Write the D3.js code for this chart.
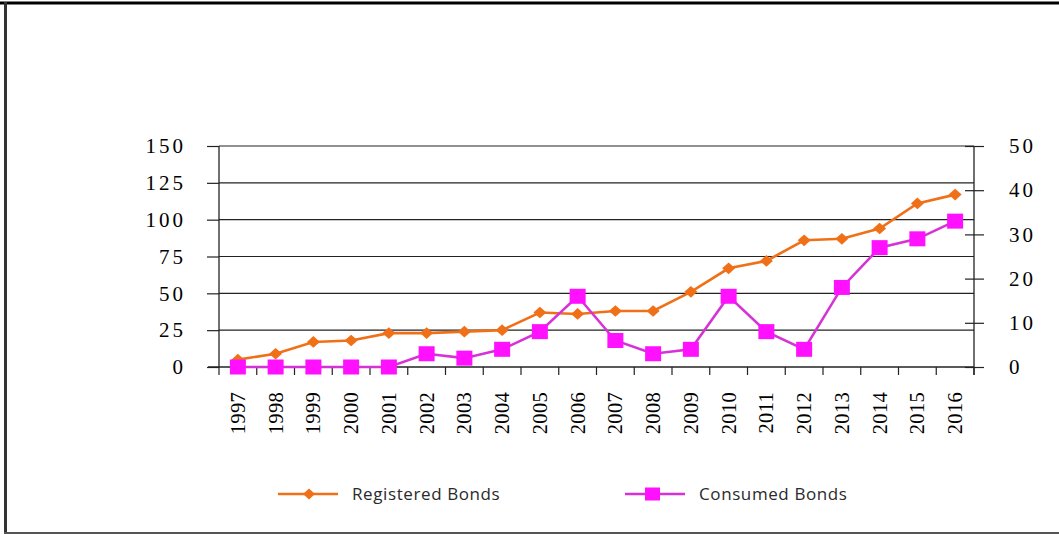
<!DOCTYPE html>
<html>
<head>
<meta charset="utf-8">
<script src="https://cdn.jsdelivr.net/npm/d3@7"></script>
<style>
  html, body { margin: 0; padding: 0; background: #fff; }
  svg { display: block; }
</style>
</head>
<body>
<svg id="chart" width="1059" height="534"></svg>
<script>
// Yearly counts of bonds
const years = ["1997","1998","1999","2000","2001","2002","2003","2004","2005","2006",
               "2007","2008","2009","2010","2011","2012","2013","2014","2015","2016"];
const registeredBonds = [5, 9, 17, 18, 23, 23, 24, 25, 37, 36, 38, 38, 51, 67, 72, 86, 87, 94, 111, 117];
const consumedBonds   = [0, 0, 0, 0, 0, 3, 2, 4, 8, 16, 6, 3, 4, 16, 8, 4, 18, 27, 29, 33];
const leftTicks  = [0, 25, 50, 75, 100, 125, 150];
const rightTicks = [0, 10, 20, 30, 40, 50];

const svg = d3.select("#chart");
const W = 1059, H = 534;
const plot = { left: 219, right: 974, top: 146, bottom: 367 };

const orange = "#F07018";
const magenta = "#FF10FF";
const magentaLine = "#D633D6";
const serif = "'Liberation Serif', 'Times New Roman', serif";

// frame
svg.append("line").attr("x1", 0).attr("x2", W).attr("y1", 3).attr("y2", 3)
  .attr("stroke", "#000").attr("stroke-width", 3);
svg.append("line").attr("x1", 5.5).attr("x2", 5.5).attr("y1", 2).attr("y2", H)
  .attr("stroke", "#333").attr("stroke-width", 3);
svg.append("line").attr("x1", 4).attr("x2", W).attr("y1", 533).attr("y2", 533)
  .attr("stroke", "#555").attr("stroke-width", 2);

const x = d3.scaleBand().domain(years).range([plot.left, plot.right]).padding(0);
const yL = d3.scaleLinear().domain([0, 150]).range([plot.bottom, plot.top]);
const yR = d3.scaleLinear().domain([0, 50]).range([plot.bottom, plot.top]);
const cx = d => x(d) + x.bandwidth() / 2;

// horizontal gridlines
svg.append("g").selectAll("line").data(leftTicks.filter(t => t > 0)).join("line")
  .attr("x1", plot.left).attr("x2", plot.right)
  .attr("y1", d => yL(d)).attr("y2", d => yL(d))
  .attr("stroke", "#222").attr("stroke-width", 1.2);

// left axis
const gL = svg.append("g").attr("transform", `translate(${plot.left},0)`)
  .call(d3.axisLeft(yL).tickValues(leftTicks).tickSize(12).tickPadding(21));
gL.select(".domain").attr("stroke", "#222").attr("stroke-width", 1.3).attr("d", `M0,${plot.top}V${plot.bottom}`);
gL.selectAll(".tick line").attr("stroke", "#222").attr("stroke-width", 1.2);
gL.selectAll(".tick text").attr("font-family", serif).attr("font-size", 21)
  .attr("letter-spacing", 3).attr("fill", "#000");

// right axis (crossing ticks)
const gR = svg.append("g").attr("transform", `translate(${plot.right},0)`)
  .call(d3.axisRight(yR).tickValues(rightTicks).tickSize(10).tickPadding(25));
gR.select(".domain").attr("stroke", "#222").attr("stroke-width", 1.3).attr("d", `M0,${plot.top}V${plot.bottom + 8}`);
gR.selectAll(".tick line").attr("x1", -9).attr("stroke", "#222").attr("stroke-width", 1.2);
gR.selectAll(".tick text").attr("font-family", serif).attr("font-size", 21)
  .attr("letter-spacing", 3).attr("fill", "#000");

// bottom axis: ticks at category boundaries
const gB = svg.append("g");
gB.append("line").attr("x1", plot.left - 11).attr("x2", plot.right)
  .attr("y1", plot.bottom).attr("y2", plot.bottom)
  .attr("stroke", "#222").attr("stroke-width", 1.4);
gB.selectAll("line.tk").data(years.concat(["end"])).join("line").attr("class", "tk")
  .attr("x1", (d, i) => plot.left + i * x.bandwidth())
  .attr("x2", (d, i) => plot.left + i * x.bandwidth())
  .attr("y1", plot.bottom).attr("y2", plot.bottom + 8)
  .attr("stroke", "#222").attr("stroke-width", 1.2);
gB.selectAll("text").data(years).join("text")
  .attr("transform", d => `translate(${cx(d) + 7},${plot.bottom + 25}) rotate(-90)`)
  .attr("text-anchor", "end")
  .attr("font-family", serif).attr("font-size", 20.5).attr("letter-spacing", 0.3)
  .attr("fill", "#000")
  .text(d => d);

// series lines
const lineL = d3.line().x((d, i) => cx(years[i])).y(d => yL(d));
const lineR = d3.line().x((d, i) => cx(years[i])).y(d => yR(d));

svg.append("path").datum(registeredBonds).attr("d", lineL)
  .attr("fill", "none").attr("stroke", orange).attr("stroke-width", 2.6);
svg.append("path").datum(consumedBonds).attr("d", lineR)
  .attr("fill", "none").attr("stroke", magentaLine).attr("stroke-width", 2.6);

const diamond = s => `M0,${-s * 0.9}L${s},0L0,${s * 0.9}L${-s},0Z`;

svg.append("g").selectAll("path").data(registeredBonds).join("path")
  .attr("transform", (d, i) => `translate(${cx(years[i])},${yL(d)})`)
  .attr("d", diamond(6.5)).attr("fill", orange);

svg.append("g").selectAll("rect").data(consumedBonds).join("rect")
  .attr("x", (d, i) => cx(years[i]) - 8).attr("y", d => yR(d) - 7.5)
  .attr("width", 16).attr("height", 15).attr("fill", magenta);

// legend
const legend = svg.append("g").attr("font-family", "'Open Sans', 'Noto Sans', sans-serif")
  .attr("font-size", 17).attr("letter-spacing", 0.6).attr("fill", "#2a2a2a");
const lg1 = legend.append("g").attr("transform", "translate(278,494)");
lg1.append("line").attr("x1", 0).attr("x2", 60).attr("stroke", orange).attr("stroke-width", 2.5);
lg1.append("path").attr("transform", "translate(31,0)").attr("d", diamond(6)).attr("fill", orange);
lg1.append("text").attr("x", 74).attr("y", 6).text("Registered Bonds");

const lg2 = legend.append("g").attr("transform", "translate(625,494)");
lg2.append("line").attr("x1", 0).attr("x2", 60).attr("stroke", magentaLine).attr("stroke-width", 2.5);
lg2.append("rect").attr("x", 20).attr("y", -6.5).attr("width", 15).attr("height", 13).attr("fill", magenta);
lg2.append("text").attr("x", 74).attr("y", 6).text("Consumed Bonds");
</script>
</body>
</html>
